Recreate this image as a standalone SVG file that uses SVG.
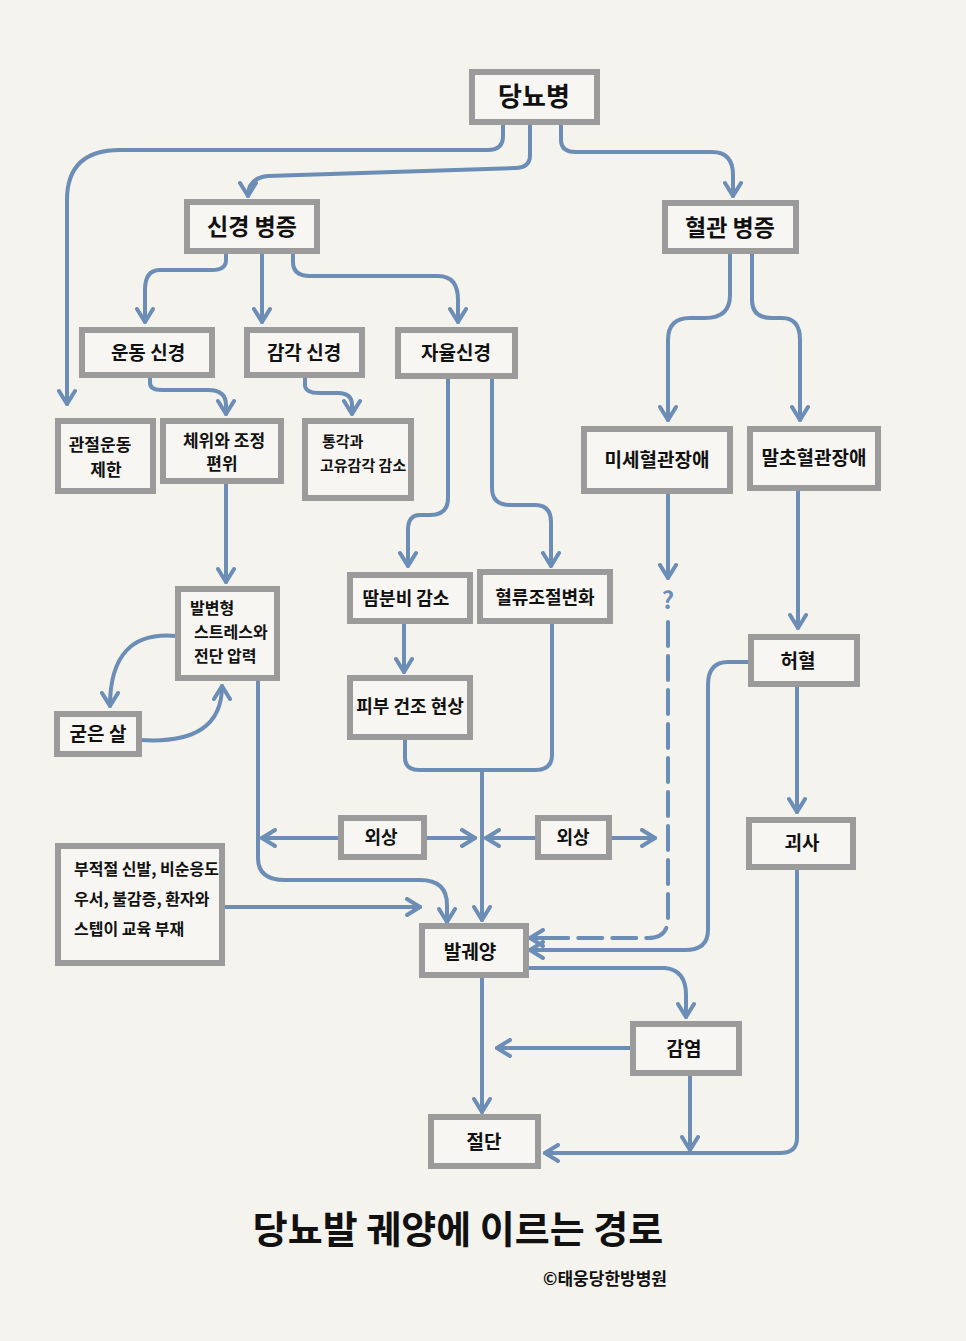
<svg xmlns="http://www.w3.org/2000/svg" width="966" height="1341" viewBox="0 0 966 1341">
<defs>
<marker id="ah" markerUnits="userSpaceOnUse" markerWidth="20" markerHeight="20" viewBox="0 0 20 20" refX="17" refY="10" orient="auto">
<path d="M4,2 L17,10 L4,18" fill="none" stroke="#6b8db6" stroke-width="4" stroke-linecap="round" stroke-linejoin="round"/>
</marker>
<style>
.bx{fill:#f7f6f2;stroke:#9b9b9b;stroke-width:6}
.t{font-family:"Noto Sans CJK KR","Noto Sans",sans-serif;font-weight:700;fill:#111;font-size:19px;text-anchor:middle}
.tl{font-family:"Noto Sans CJK KR","Noto Sans",sans-serif;font-weight:700;fill:#111;font-size:17px}
.c{fill:none;stroke:#6b8db6;stroke-width:4;stroke-linecap:round;stroke-linejoin:round}
.a{marker-end:url(#ah)}
</style>
</defs>
<rect x="0" y="0" width="966" height="1341" fill="#f4f3ee"/>

<g id="connectors">
<path class="c a" d="M503,124 V136 Q503,150 488,150 H120 Q67,150 67,200 V404"/>
<path class="c a" d="M530,124 V155 Q530,168 515,168 L268,176 Q248,178 248,196"/>
<path class="c a" d="M561,124 V140 Q561,152 576,152 H712 Q733,152 733,175 V196"/>
<path class="c a" d="M226,253 V260 Q226,270 212,270 H160 Q145,270 145,290 V322"/>
<path class="c a" d="M262,253 V322"/>
<path class="c a" d="M293,253 V262 Q293,276 310,276 H438 Q458,276 458,300 V322"/>
<path class="c a" d="M150,377 V383 Q150,390 162,390 H208 Q226,390 226,405 V414"/>
<path class="c a" d="M305,377 V385 Q305,393 320,393 H338 Q352,393 352,405 V414"/>
<path class="c a" d="M448,378 V498 Q448,515 430,515 H420 Q408,515 408,530 V566"/>
<path class="c a" d="M492,378 V488 Q492,505 510,505 H535 Q551,505 551,522 V566"/>
<path class="c a" d="M730,253 V295 Q730,318 705,318 H690 Q668,318 668,340 V420"/>
<path class="c a" d="M752,253 V300 Q752,318 772,318 H782 Q800,318 800,340 V420"/>
<path class="c a" d="M226,483 V582"/>
<path class="c a" d="M404,623 V672"/>
<path class="c a" d="M176,636 Q110,630 110,706"/>
<path class="c a" d="M141,740 Q222,745 222,686"/>
<path class="c" d="M405,739 V758 Q405,770 420,770 H535 Q552,770 552,755 V623"/>
<path class="c a" d="M482,770 V920"/>
<path class="c a" d="M341,838 H262"/>
<path class="c a" d="M424,838 H475"/>
<path class="c a" d="M538,838 H486"/>
<path class="c a" d="M609,838 H655"/>
<path class="c a" d="M258,680 V858 Q258,880 285,880 H420 Q447,880 447,905 V922"/>
<path class="c a" d="M224,907 H420"/>
<path class="c a" d="M668,493 V578"/>
<path class="c" d="M668,622 V918 Q668,938 648,938 H540" stroke-dasharray="24,10"/>
<path class="c a" d="M548,938 H530"/>
<path class="c a" d="M749,662 H728 Q708,662 708,685 V930 Q708,950 685,950 H530"/>
<path class="c a" d="M798,490 V628"/>
<path class="c a" d="M797,686 V812"/>
<path class="c a" d="M797,869 V1138 Q797,1153 780,1153 H545"/>
<path class="c a" d="M528,968 H665 Q686,970 686,995 V1017"/>
<path class="c a" d="M482,977 V1112"/>
<path class="c a" d="M631,1048 H497"/>
<path class="c a" d="M690,1075 V1150"/>
</g>

<g id="n-diabetes"><rect class="bx" x="472" y="72" width="125" height="50"/><text class="t" x="534" y="106" style="font-size:26px">당뇨병</text></g>
<g id="n-neuropathy"><rect class="bx" x="187" y="202" width="130" height="49"/><text class="t" x="252" y="235" style="font-size:23px">신경 병증</text></g>
<g id="n-vasculopathy"><rect class="bx" x="665" y="203" width="131" height="48"/><text class="t" x="730" y="236" style="font-size:23px">혈관 병증</text></g>
<g id="n-motor"><rect class="bx" x="82" y="330" width="130" height="45"/><text class="t" x="148" y="360">운동 신경</text></g>
<g id="n-sensory"><rect class="bx" x="247" y="330" width="115" height="45"/><text class="t" x="304" y="360">감각 신경</text></g>
<g id="n-autonomic"><rect class="bx" x="398" y="330" width="117" height="46"/><text class="t" x="456" y="360">자율신경</text></g>
<g id="n-joint"><rect class="bx" x="58" y="421" width="95" height="70"/><text class="t" x="100" y="451" style="font-size:17px"><tspan x="100">관절운동</tspan><tspan x="106" dy="25">제한</tspan></text></g>
<g id="n-posture"><rect class="bx" x="163" y="421" width="118" height="60"/><text class="t" x="224" y="447" style="font-size:17px"><tspan x="224">체위와 조정</tspan><tspan x="222" dy="23">편위</tspan></text></g>
<g id="n-pain"><rect class="bx" x="305" y="421" width="106" height="77"/><text class="tl" x="322" y="447" style="font-size:15px"><tspan x="322">통각과</tspan><tspan x="320" dy="24">고유감각 감소</tspan></text></g>
<g id="n-micro"><rect class="bx" x="584" y="429" width="146" height="62"/><text class="t" x="657" y="467">미세혈관장애</text></g>
<g id="n-peripheral"><rect class="bx" x="750" y="429" width="128" height="59"/><text class="t" x="814" y="465">말초혈관장애</text></g>
<g id="n-sweat"><rect class="bx" x="350" y="575" width="120" height="46"/><text class="t" x="406" y="605" style="font-size:18px">땀분비 감소</text></g>
<g id="n-blood"><rect class="bx" x="480" y="572" width="130" height="49"/><text class="t" x="545" y="604" style="font-size:18px">혈류조절변화</text></g>
<g id="n-dry"><rect class="bx" x="350" y="678" width="120" height="59"/><text class="t" x="410" y="713" style="font-size:18px">피부 건조 현상</text></g>
<g id="n-deform"><rect class="bx" x="178" y="589" width="99" height="89"/><text class="tl" x="190" y="614" style="font-size:16px"><tspan x="190">발변형</tspan><tspan x="194" dy="24">스트레스와</tspan><tspan x="194" dy="24">전단 압력</tspan></text></g>
<g id="n-callus"><rect class="bx" x="57" y="714" width="82" height="40"/><text class="t" x="98" y="741">굳은 살</text></g>
<g id="n-ischemia"><rect class="bx" x="751" y="637" width="106" height="47"/><text class="t" x="798" y="668">허혈</text></g>
<g id="n-trauma1"><rect class="bx" x="341" y="818" width="83" height="39"/><text class="t" x="381" y="844" style="font-size:18px">외상</text></g>
<g id="n-trauma2"><rect class="bx" x="538" y="818" width="71" height="39"/><text class="t" x="573" y="844" style="font-size:18px">외상</text></g>
<g id="n-necrosis"><rect class="bx" x="749" y="820" width="104" height="47"/><text class="t" x="802" y="850">괴사</text></g>
<g id="n-factors"><rect class="bx" x="58" y="846" width="164" height="117"/><text class="tl" x="74" y="875" style="font-size:16px"><tspan x="74">부적절  신발, 비순응도</tspan><tspan x="74" dy="30">우서, 불감증, 환자와</tspan><tspan x="74" dy="30">스텝이  교육 부재</tspan></text></g>
<g id="n-ulcer"><rect class="bx" x="422" y="926" width="104" height="49"/><text class="t" x="470" y="959">발궤양</text></g>
<g id="n-infection"><rect class="bx" x="633" y="1024" width="106" height="49"/><text class="t" x="684" y="1056">감염</text></g>
<g id="n-amputation"><rect class="bx" x="431" y="1117" width="107" height="49"/><text class="t" x="484" y="1149">절단</text></g>

<text class="t" x="668" y="609" style="font-size:24px;fill:#6b8db6">?</text>
<text class="t" x="458" y="1243" style="font-size:38px">당뇨발 궤양에 이르는 경로</text>
<text class="t" x="605" y="1285" style="font-size:17px">©태웅당한방병원</text>
</svg>
